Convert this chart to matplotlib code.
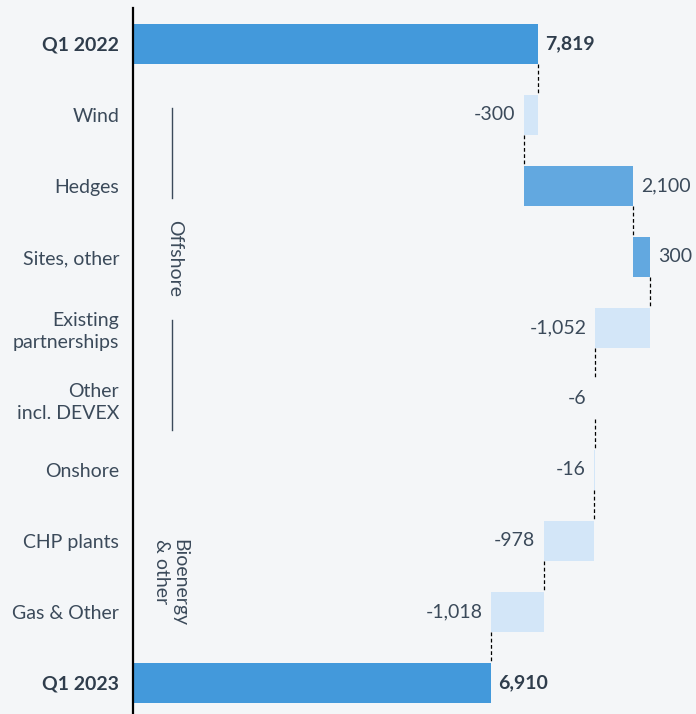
import matplotlib.pyplot as plt
import numpy as np

# waterfall data (labels are the printed, rounded figures)
categories = ['Q1 2022', 'Wind', 'Hedges', 'Sites, other', 'Existing\npartnerships',
              'Other\nincl. DEVEX', 'Onshore', 'CHP plants', 'Gas & Other', 'Q1 2023']
start_total = 7819
end_total = 6910
deltas = [-270, 2103, 328, -1052, -6, -16, -978, -1018]
value_labels = ['7,819', '-300', '2,100', '300', '-1,052', '-6', '-16', '-978', '-1,018', '6,910']

bg = '#f4f6f8'
txt = '#3b4a5a'
c_total = '#4399db'
c_pos = '#62a8e0'
c_neg = '#d3e6f8'
fs = 14

plt.rcParams['font.family'] = ['Lato', 'DejaVu Sans']

fig = plt.figure(figsize=(6.96, 7.14), dpi=100, facecolor=bg)
ax = fig.add_axes([133/696, 0, 1 - 133/696, 706/714], facecolor=bg)

h = 0.56
n = len(categories)
y = np.arange(n)

# running totals
lefts, widths, colors, ends = [], [], [], []
lefts.append(0); widths.append(start_total); colors.append(c_total); ends.append(start_total)
run = start_total
for d in deltas:
    new = run + d
    lefts.append(min(run, new))
    widths.append(abs(d))
    colors.append(c_pos if d > 0 else c_neg)
    ends.append(new)
    run = new
lefts.append(0); widths.append(end_total); colors.append(c_total); ends.append(end_total)

ax.barh(y, widths, left=lefts, height=h, color=colors, edgecolor='none')

# dashed connectors
for i in range(n - 1):
    ax.plot([ends[i], ends[i]], [i + h/2, i + 1 - h/2], color='black',
            lw=0.9, ls=(0, (3, 2)))

# value labels
for i in range(n):
    if i == 0 or i == n - 1:
        ax.annotate(value_labels[i], (lefts[i] + widths[i], i), xytext=(5, 0),
                    textcoords='offset points', ha='left', va='center',
                    fontsize=fs, fontweight='bold', color='#2f3d4c')
    elif deltas[i - 1] > 0:
        ax.annotate(value_labels[i], (lefts[i] + widths[i], i), xytext=(6, 0),
                    textcoords='offset points', ha='left', va='center',
                    fontsize=fs, color=txt)
    else:
        ax.annotate(value_labels[i], (lefts[i], i), xytext=(-6, 0),
                    textcoords='offset points', ha='right', va='center',
                    fontsize=fs, color=txt)

# group annotations
gx = 750
ax.plot([gx, gx], [0.90, 2.17], color=txt, lw=1)
ax.plot([gx, gx], [3.89, 5.44], color=txt, lw=1)
ax.text(gx + 60, 3.02, 'Offshore', rotation=-90, ha='center', va='center',
        fontsize=fs, color=txt)
ax.text(gx - 30, 6.98, 'Bioenergy\n& other', rotation=-90, ha='center', va='top',
        multialignment='left', fontsize=fs, color=txt, linespacing=1.1)

ax.set_yticks(y)
ax.set_yticklabels(categories, fontsize=fs, color=txt, linespacing=1.35)
for i in (0, n - 1):
    ax.get_yticklabels()[i].set_fontweight('bold')
    ax.get_yticklabels()[i].set_color('#2f3d4c')
ax.tick_params(axis='y', length=0, pad=10)
ax.set_xticks([])
ax.set_xlim(0, 10870)
ax.set_ylim(9.44, -0.507)
for s in ['top', 'right', 'bottom']:
    ax.spines[s].set_visible(False)
ax.spines['left'].set_color('black')
ax.spines['left'].set_linewidth(1.6)

plt.savefig('out.png', dpi=100, facecolor=bg)
